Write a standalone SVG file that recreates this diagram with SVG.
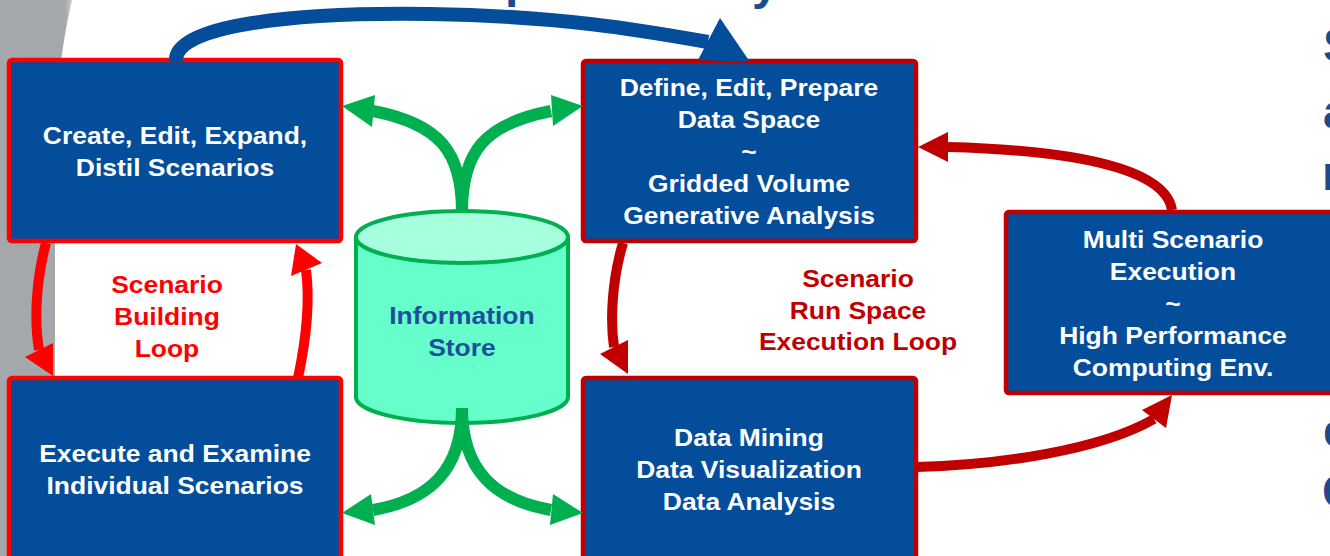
<svg xmlns="http://www.w3.org/2000/svg" width="1330" height="556" viewBox="0 0 1330 556">
<defs>
<style>
.box{fill:#034D9A;stroke-width:4.5}
.rb{stroke:#FF0000}
.db{stroke:#C00000}
.t{font-family:"Liberation Sans",Arial,sans-serif;font-weight:bold;font-size:23px;text-anchor:middle}
.w{fill:#FFFFFF}
.big{font-family:"Liberation Sans",Arial,sans-serif;font-weight:bold;font-size:48px;fill:#1C4A8C}
.g{fill:none;stroke:#00B050;stroke-width:12}
.gh{fill:#00B050}
.r{fill:none;stroke:#FF0000;stroke-width:10}
.rh{fill:#FF0000}
.d{fill:none;stroke:#C00000;stroke-width:10}
.dh{fill:#C00000}
</style>
<linearGradient id="gr" x1="0" y1="0" x2="1" y2="0">
<stop offset="0" stop-color="#A4A8AA"/>
<stop offset="0.9" stop-color="#A4A8AA"/>
<stop offset="1" stop-color="#C9CBCC"/>
</linearGradient>
</defs>
<rect width="1330" height="556" fill="#FFFFFF"/>
<path d="M0,0 L72,0 C63,40 57,80 55,140 L55,556 L0,556 Z" fill="url(#gr)"/>

<g id="fragments">
<text class="big" x="505" y="-3">p</text>
<text class="big" x="752" y="-1">y</text>
<text class="big" x="1323" y="62">S</text>
<text class="big" x="1323" y="128">a</text>
<text class="big" x="1322" y="190">r</text>
<text class="big" x="1323" y="447">e</text>
<text class="big" x="1322" y="508">C</text>
</g>

<g id="create">
<rect class="box rb" x="9" y="60" width="332" height="181" rx="3"/>
<g transform="scale(1.15,1)">
<text class="t w" x="152.2" y="144">Create, Edit, Expand,</text>
<text class="t w" x="152.2" y="176">Distil Scenarios</text>
</g>
</g>
<g id="execute">
<rect class="box rb" x="9" y="378" width="332" height="200" rx="3"/>
<g transform="scale(1.15,1)">
<text class="t w" x="152.2" y="462">Execute and Examine</text>
<text class="t w" x="152.2" y="494">Individual Scenarios</text>
</g>
</g>
<g id="define">
<rect class="box db" x="583" y="61" width="333" height="180" rx="3"/>
<g transform="scale(1.15,1)">
<text class="t w" x="651.3" y="96">Define, Edit, Prepare</text>
<text class="t w" x="651.3" y="128">Data Space</text>
<text class="t w" x="651.3" y="160">~</text>
<text class="t w" x="651.3" y="192">Gridded Volume</text>
<text class="t w" x="651.3" y="224">Generative Analysis</text>
</g>
</g>
<g id="mining">
<rect class="box db" x="583" y="378" width="333" height="200" rx="3"/>
<g transform="scale(1.15,1)">
<text class="t w" x="651.3" y="446">Data Mining</text>
<text class="t w" x="651.3" y="478">Data Visualization</text>
<text class="t w" x="651.3" y="510">Data Analysis</text>
</g>
</g>
<g id="multi">
<rect class="box db" x="1006" y="212" width="340" height="181" rx="3"/>
<g transform="scale(1.15,1)">
<text class="t w" x="1020" y="248">Multi Scenario</text>
<text class="t w" x="1020" y="280">Execution</text>
<text class="t w" x="1020" y="312">~</text>
<text class="t w" x="1020" y="344">High Performance</text>
<text class="t w" x="1020" y="376">Computing Env.</text>
</g>
</g>
<g id="store">
<path d="M356,237 L356,397 A106,26 0 0 0 568,397 L568,237 Z" fill="#66FFCC" stroke="#00B050" stroke-width="4"/>
<ellipse cx="462" cy="237" rx="106" ry="26" fill="#A6FFDD" stroke="#00B050" stroke-width="4"/>
<g transform="scale(1.15,1)">
<text class="t" x="401.7" y="324" fill="#1F4E9C">Information</text>
<text class="t" x="401.7" y="356" fill="#1F4E9C">Store</text>
</g>
</g>

<g id="labels" transform="scale(1.15,1)">
<text class="t" x="145.2" y="293" fill="#FF0000">Scenario</text>
<text class="t" x="145.2" y="325" fill="#FF0000">Building</text>
<text class="t" x="145.2" y="357" fill="#FF0000">Loop</text>
<text class="t" x="746.1" y="287" fill="#C00000">Scenario</text>
<text class="t" x="746.1" y="319" fill="#C00000">Run Space</text>
<text class="t" x="746.1" y="350" fill="#C00000">Execution Loop</text>
</g>

<g id="connectors">
<path d="M176,62 C172,24 300,12 430,14 S640,30 708,42" fill="none" stroke="#034D9A" stroke-width="14"/>
<polygon points="720,18 750,62 698,60" fill="#034D9A"/>

<path class="g" d="M462,212 C462,152 440,124 373,111"/>
<polygon class="gh" points="342,106 375,95 372,127"/>
<path class="g" d="M462,212 C462,152 484,124 551,111"/>
<polygon class="gh" points="583,106 551,95 553,126"/>
<path class="g" d="M462,408 C462,470 430,500 373,510"/>
<polygon class="gh" points="342,513 371,494 375,525"/>
<path class="g" d="M462,408 C462,470 494,500 551,510"/>
<polygon class="gh" points="583,513 553,494 550,525"/>

<path class="r" d="M46,243 C36,280 34,320 39,350"/>
<polygon class="rh" points="53,376 25,357 53,343"/>
<path class="r" d="M298,378 C306,340 310,300 306,270"/>
<polygon class="rh" points="296,244 322,263 291,276"/>

<path class="d" d="M623,243 C612,280 610,320 614,347"/>
<polygon class="dh" points="628,374 600,354 628,340"/>
<path class="d" d="M1172,210 C1165,165 1060,150 948,147"/>
<polygon class="dh" points="918,147 948,132 948,162"/>
<path class="d" d="M916,467 C1000,465 1100,450 1154,419"/>
<polygon class="dh" points="1172,395 1142,410 1166,428"/>
</g>
</svg>
